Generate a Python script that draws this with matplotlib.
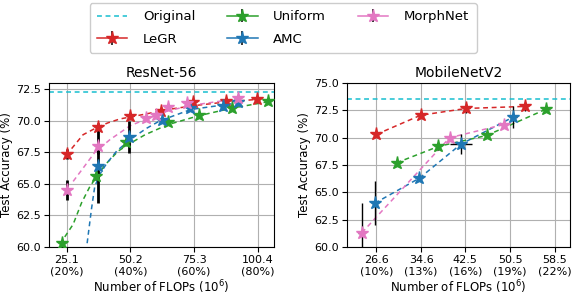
import numpy as np
import matplotlib
matplotlib.use("Agg")
import matplotlib.pyplot as plt

# ---------------- data: ResNet-56 ----------------
res_original = 72.3
res_ticks = [25.1, 50.2, 75.3, 100.4]
res_ticklabels = ["25.1\n(20%)", "50.2\n(40%)", "75.3\n(60%)", "100.4\n(80%)"]

res_legr_x = [25.1, 37.3, 50.0, 62.4, 74.9, 88.0, 100.2]
res_legr_y = [67.4, 69.5, 70.4, 70.8, 71.5, 71.6, 71.75]
res_legr_err = [0.4, 0.3, 0.2, 0.1, 0.1, 0.1, 0.1]

res_unif_x = [23.5, 36.6, 48.4, 65.1, 77.2, 90.3, 104.3]
res_unif_y = [60.3, 65.6, 68.3, 69.9, 70.5, 71.05, 71.6]
res_unif_err = [0.1, 0.3, 0.2, 0.1, 0.1, 0.1, 0.1]

res_amc_x = [37.5, 49.7, 62.8, 73.6, 86.6, 92.5]
res_amc_y = [66.4, 68.7, 70.05, 71.05, 71.2, 71.5]
res_amc_err = [2.9, 1.25, 0.2, 0.2, 0.2, 0.2]

res_morph_x = [25.1, 37.5, 56.3, 60.2, 65.1, 72.3, 92.5]
res_morph_y = [64.5, 68.0, 70.2, 70.45, 71.1, 71.4, 71.85]
res_morph_err = [0.8, 0.6, 0.1, 0.1, 0.1, 0.1, 0.1]

# fitted trend curves
res_legr_fit_x = [27.1, 31.6, 37.3, 41.5, 46.1, 55.2, 65.0, 75.0, 88.0, 100.0]
res_legr_fit_y = [67.8, 68.9, 69.5, 69.85, 70.15, 70.5, 70.9, 71.2, 71.5, 71.7]
res_unif_fit_x = [24.4, 27.7, 31.0, 34.3, 40.2, 45.4, 50.0, 56.0, 65.0, 77.0, 90.0, 104.0]
res_unif_fit_y = [60.8, 61.8, 63.5, 64.8, 66.5, 67.6, 68.2, 68.9, 69.7, 70.4, 71.0, 71.5]
res_amc_fit_x = [33.2, 34.9, 36.2, 38.3, 40.8, 44.8, 50.0, 56.5, 61.8, 74.0, 90.0]
res_amc_fit_y = [60.3, 63.0, 64.8, 65.8, 66.6, 67.6, 68.5, 69.4, 70.0, 70.9, 71.35]
res_morph_fit_x = [27.7, 31.6, 36.2, 42.1, 50.0, 56.0, 65.0, 75.0, 92.0]
res_morph_fit_y = [65.2, 66.25, 67.5, 68.5, 69.6, 70.1, 70.8, 71.25, 71.75]

# ---------------- data: MobileNetV2 ----------------
mob_original = 73.5
mob_ticks = [26.6, 34.6, 42.5, 50.5, 58.5]
mob_ticklabels = ["26.6\n(10%)", "34.6\n(13%)", "42.5\n(16%)", "50.5\n(19%)", "58.5\n(22%)"]

mob_legr_x = [26.6, 34.5, 42.6, 53.1]
mob_legr_y = [70.3, 72.05, 72.67, 72.86]
mob_legr_yerr = [0.2, 0.2, 0.4, 0.4]
mob_legr_xerr = [0.2, 0.2, 0.3, 0.3]

mob_unif_x = [30.2, 37.7, 46.3, 56.9]
mob_unif_y = [67.7, 69.2, 70.2, 72.6]
mob_unif_yerr = [0.1, 0.3, 0.1, 0.1]
mob_unif_xerr = [0.1, 0.1, 0.1, 0.1]

mob_amc_x = [26.3, 34.3, 41.7, 51.1]
mob_amc_y = [64.0, 66.3, 69.4, 71.9]
mob_amc_yerr = [2.0, 0.2, 0.9, 1.0]
mob_amc_xerr = [0.5, 0.5, 2.0, 0.6]

mob_morph_x = [24.0, 39.7, 49.4]
mob_morph_y = [61.3, 70.0, 71.2]
mob_morph_yerr = [2.7, 0.1, 0.1]
mob_morph_xerr = [0.6, 0.1, 0.1]

c_orig = "#17becf"
c_legr = "#d62728"
c_unif = "#2ca02c"
c_amc = "#1f77b4"
c_morph = "#e377c2"

plt.rcParams["font.family"] = "DejaVu Sans"

fig = plt.figure(figsize=(5.72, 2.96), dpi=100)
ax1 = fig.add_axes([49 / 572, 1 - 247 / 296, 225 / 572, 164 / 296])
ax2 = fig.add_axes([347 / 572, 1 - 247 / 296, 223 / 572, 164 / 296])

ms = 9.5
dash = (0, (3.2, 2.4))
star = dict(fmt="*", ms=ms, ecolor="k", capsize=0, zorder=3)

# ResNet-56
ax1.axhline(res_original, color=c_orig, ls=dash, lw=1.1, zorder=1)
ax1.plot(res_legr_fit_x, res_legr_fit_y, ls=dash, color=c_legr, lw=1.1, zorder=2)
ax1.plot(res_unif_fit_x, res_unif_fit_y, ls=dash, color=c_unif, lw=1.1, zorder=2)
ax1.plot(res_amc_fit_x, res_amc_fit_y, ls=dash, color=c_amc, lw=1.1, zorder=2)
ax1.plot(res_morph_fit_x, res_morph_fit_y, ls=dash, color=c_morph, lw=1.1, zorder=2)
ax1.errorbar(res_legr_x, res_legr_y, yerr=res_legr_err, color=c_legr, elinewidth=2, **star)
ax1.errorbar(res_unif_x, res_unif_y, yerr=res_unif_err, color=c_unif, elinewidth=2, **star)
ax1.errorbar(res_amc_x, res_amc_y, yerr=res_amc_err, color=c_amc, elinewidth=2, **star)
ax1.errorbar(res_morph_x, res_morph_y, yerr=res_morph_err, color=c_morph, elinewidth=2, **star)
ax1.set_xlim(18.2, 106.7)
ax1.set_ylim(60, 73)
ax1.set_xticks(res_ticks)
ax1.set_xticklabels(res_ticklabels)
ax1.set_yticks([60, 62.5, 65, 67.5, 70, 72.5])
ax1.set_title("ResNet-56", fontsize=10, pad=4)

# MobileNetV2
ax2.axhline(mob_original, color=c_orig, ls=dash, lw=1.1, zorder=1)
for xs, ys, ye, xe, c in [(mob_legr_x, mob_legr_y, mob_legr_yerr, mob_legr_xerr, c_legr),
                          (mob_unif_x, mob_unif_y, mob_unif_yerr, mob_unif_xerr, c_unif),
                          (mob_amc_x, mob_amc_y, mob_amc_yerr, mob_amc_xerr, c_amc),
                          (mob_morph_x, mob_morph_y, mob_morph_yerr, mob_morph_xerr, c_morph)]:
    ax2.plot(xs, ys, ls=dash, color=c, lw=1.1, zorder=2)
    ax2.errorbar(xs, ys, yerr=ye, xerr=xe, color=c, elinewidth=1, **star)
ax2.set_xlim(21.35, 61.2)
ax2.set_ylim(60, 75)
ax2.set_xticks(mob_ticks)
ax2.set_xticklabels(mob_ticklabels)
ax2.set_yticks([60, 62.5, 65, 67.5, 70, 72.5, 75])
ax2.set_title("MobileNetV2", fontsize=10, pad=4)

for ax in (ax1, ax2):
    ax.grid(True, color="#b0b0b0", lw=0.8)
    ax.set_axisbelow(True)
    ax.tick_params(labelsize=8, length=3.5, pad=2.5)
    ax.yaxis.set_major_formatter(matplotlib.ticker.FormatStrFormatter("%.1f"))
    ax.set_ylabel("Test Accuracy (%)", fontsize=8.5, labelpad=2)
    ax.set_xlabel("Number of FLOPs (10$^6$)", fontsize=8.5, labelpad=1)

# legend proxies (line + star + black error bar)
h_orig, = ax1.plot([], [], ls=dash, color=c_orig, lw=1.1)
h_legr = ax1.errorbar([], [], yerr=[], fmt="*-", color=c_legr, ms=ms, ecolor="k", lw=1.1)
h_unif = ax1.errorbar([], [], yerr=[], fmt="*-", color=c_unif, ms=ms, ecolor="k", lw=1.1)
h_amc = ax1.errorbar([], [], yerr=[], fmt="*-", color=c_amc, ms=ms, ecolor="k", lw=1.1)
h_morph = ax1.errorbar([], [], yerr=[], fmt="*-", color=c_morph, ms=ms, ecolor="k", lw=1.1)

fig.legend([h_orig, h_legr, h_unif, h_amc, h_morph],
           ["Original", "LeGR", "Uniform", "AMC", "MorphNet"],
           ncol=3, loc="upper center", bbox_to_anchor=(0.495, 1.012),
           fontsize=9.5, handlelength=2.3, handletextpad=1.2, columnspacing=2.4,
           labelspacing=0.7, borderpad=0.55, framealpha=1)

fig.savefig("out.png", dpi=100)
